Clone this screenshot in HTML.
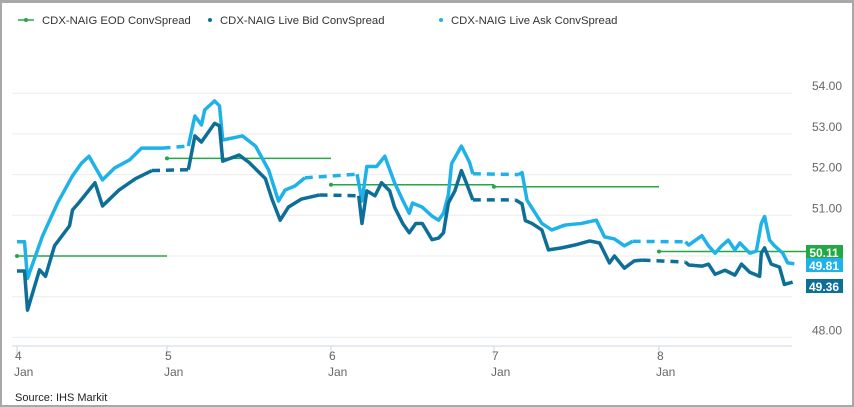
<!DOCTYPE html>
<html><head><meta charset="utf-8">
<style>
html,body{margin:0;padding:0;background:#fff;}
#wrap{position:relative;width:854px;height:407px;box-sizing:border-box;border:2px solid #a8a8a8;border-top-width:3px;overflow:hidden;font-family:"Liberation Sans",sans-serif;}
svg{position:absolute;left:0;top:0;}
</style></head><body>
<div id="wrap">
<svg id="chart" width="854" height="407" viewBox="0 0 854 407"></svg>
</div>
<script>
const dayTicks = [4,5,6,7,8];
const yTicks = [48,49,50,51,52,53,54];
const yTickLabels = ["48.00","","","51.00","52.00","53.00","54.00"];
const eodStart = [4,5,6,7,8];
const eodEnd = [5,6,7,8,8.97];
const eodValues = [50.0,52.4,51.75,51.7,50.11];
const askT = [4.00,4.05,4.07,4.17,4.27,4.37,4.43,4.48,4.57,4.65,4.75,4.83,4.97,5.13,5.17,5.21,5.23,5.29,5.32,5.34,5.46,5.54,5.62,5.68,5.72,5.78,5.84,6.16,6.19,6.22,6.28,6.33,6.39,6.44,6.48,6.50,6.56,6.62,6.66,6.69,6.72,6.74,6.80,6.85,6.87,7.15,7.17,7.20,7.29,7.35,7.43,7.53,7.62,7.67,7.73,7.79,7.84,8.16,8.18,8.26,8.30,8.34,8.38,8.42,8.46,8.49,8.55,8.59,8.62,8.64,8.67,8.70,8.75,8.78,8.82];
const askV = [50.35,50.35,49.45,50.49,51.3,51.97,52.28,52.45,51.87,52.16,52.36,52.65,52.65,52.7,53.44,53.22,53.59,53.81,53.69,52.85,52.95,52.7,52.11,51.35,51.62,51.72,51.92,52.01,51.35,52.2,52.2,52.45,51.8,51.37,51.05,51.3,51.2,50.98,50.88,51.05,51.5,52.27,52.7,52.3,52.02,52.0,52.05,51.37,50.8,50.64,50.76,50.8,50.88,50.47,50.42,50.25,50.36,50.35,50.27,50.5,50.25,50.07,50.25,50.39,50.15,50.32,50.07,50.12,50.8,50.97,50.39,50.25,50.07,49.83,49.81];
const bidT = [4.00,4.05,4.07,4.15,4.19,4.25,4.35,4.37,4.41,4.52,4.57,4.68,4.79,4.90,5.13,5.17,5.21,5.29,5.32,5.34,5.44,5.50,5.60,5.64,5.69,5.74,5.82,5.93,6.17,6.19,6.22,6.27,6.31,6.36,6.39,6.44,6.48,6.52,6.56,6.62,6.66,6.69,6.72,6.76,6.80,6.83,6.87,7.13,7.17,7.19,7.23,7.29,7.33,7.41,7.49,7.58,7.64,7.70,7.73,7.79,7.85,7.90,8.16,8.18,8.26,8.30,8.34,8.40,8.46,8.50,8.55,8.61,8.62,8.64,8.68,8.73,8.76,8.81];
const bidV = [49.63,49.63,48.67,49.66,49.5,50.25,50.74,51.13,51.3,51.8,51.23,51.62,51.9,52.1,52.12,52.95,52.8,53.26,53.2,52.33,52.48,52.3,51.9,51.4,50.88,51.2,51.4,51.5,51.48,50.8,51.6,51.48,51.8,51.6,51.2,50.8,50.57,50.8,50.8,50.4,50.44,50.57,51.3,51.6,52.1,51.8,51.38,51.38,51.28,50.87,50.8,50.64,50.15,50.2,50.27,50.37,50.32,49.83,50.0,49.7,49.88,49.9,49.85,49.78,49.75,49.8,49.55,49.65,49.53,49.8,49.6,49.5,50.07,50.2,49.8,49.73,49.3,49.36];
const lastLabels = ["50.11","49.81","49.36"];

const NS="http://www.w3.org/2000/svg";
const svg=document.getElementById('chart');
const tickX=[15,165,329,492,657];
function xs(t){
  let i=Math.min(Math.floor(t)-4,3); if(i<0)i=0;
  const w=tickX[i+1]-tickX[i];
  return tickX[i]+(t-4-i)*w;
}
function ys(v){return 253-(v-50)*40.7;}
function el(tag,attrs,parent){const e=document.createElementNS(NS,tag);for(const k in attrs)e.setAttribute(k,attrs[k]);(parent||svg).appendChild(e);return e;}

yTicks.forEach((v,i)=>{
  const g=el('line',{x1:10,x2:790,y1:ys(v),y2:ys(v),stroke:'#ebebeb','stroke-width':1});
  
  
  if(yTickLabels[i]){
    const t=el('text',{x:840,y:ys(v)-3,'text-anchor':'end','font-size':12,fill:'#666','font-family':'Liberation Sans, sans-serif'});
    t.textContent=yTickLabels[i];
    
    
  }
});
const ax=el('line',{x1:10,x2:790,y1:343,y2:343,stroke:'#ccd6eb','stroke-width':1});


dayTicks.forEach(d=>{
  const x=xs(d);
  const tk=el('line',{x1:x,x2:x,y1:343,y2:353,stroke:'#ccd6eb'});
  
  
  const t1=el('text',{x:x-2,y:357,'font-size':12,fill:'#666','font-family':'Liberation Sans, sans-serif'});
  t1.textContent=String(d);
  
  
  const t2=el('text',{x:x-3,y:373,'font-size':12,fill:'#666','font-family':'Liberation Sans, sans-serif'});
  t2.textContent='Jan';
  
  
});
eodValues.forEach((v,i)=>{
  const y=ys(v);
  const l=el('line',{x1:xs(eodStart[i]),x2:xs(eodEnd[i]),y1:y,y2:y,stroke:'#22a845','stroke-width':1.5});
  
  
  const c=el('circle',{cx:xs(eodStart[i]),cy:y,r:2,fill:'#22a845'});
  
  
});
function series(T,V,color,name){
  const g=el('g',{});
  
  
  let d='';
  for(let i=0;i<T.length;i++){
    if(i>0 && T[i]-T[i-1]>0.14){
      const dl=el('line',{x1:xs(T[i-1]),y1:ys(V[i-1]),x2:xs(T[i]),y2:ys(V[i]),stroke:color,'stroke-width':3.5,'stroke-dasharray':'8 6'},g);
      
      
      d+='M'+xs(T[i])+' '+ys(V[i]);
    } else d+=(i===0?'M':'L')+xs(T[i])+' '+ys(V[i]);
  }
  const p=el('path',{d:d,fill:'none',stroke:color,'stroke-width':3.5,'stroke-linejoin':'round'},g);
  
  
}
series(askT,askV,'#1fb2e8','ask-series');
series(bidT,bidV,'#0d6f98','bid-series');

const boxColors=['#22a845','#1fb2e8','#0d6f98'];
const boxY=[249,262,283];
lastLabels.forEach((s,i)=>{
  const r=el('rect',{x:804,y:boxY[i]-7,width:37,height:14,fill:boxColors[i]});
  
  
  const t=el('text',{x:822,y:boxY[i]+5,'text-anchor':'middle','font-size':12,'font-weight':'bold',fill:'#fff','font-family':'Liberation Sans, sans-serif'});
  t.textContent=s;
  
  
});

const legend=[['CDX-NAIG EOD ConvSpread','#22a845',40,true],['CDX-NAIG Live Bid ConvSpread','#0d6f98',218,false],['CDX-NAIG Live Ask ConvSpread','#1fb2e8',449,false]];
legend.forEach(l=>{
  const g=el('g',{});
  
  
  if(l[3]){el('line',{x1:l[2]-24,x2:l[2]-8,y1:17,y2:17,stroke:l[1],'stroke-width':1.5},g);}
  el('circle',{cx:l[2]-16+(l[3]?0:6),cy:17,r:2,fill:l[1]},g);
  const t=el('text',{x:l[2],y:21,'font-size':11.3,fill:'#333','font-family':'Liberation Sans, sans-serif'},g);
  t.textContent=l[0];
});
const src=el('text',{x:13,y:398,'font-size':11,fill:'#222','font-family':'Liberation Sans, sans-serif'});
src.textContent='Source: IHS  Markit';


</script>
</body></html>
